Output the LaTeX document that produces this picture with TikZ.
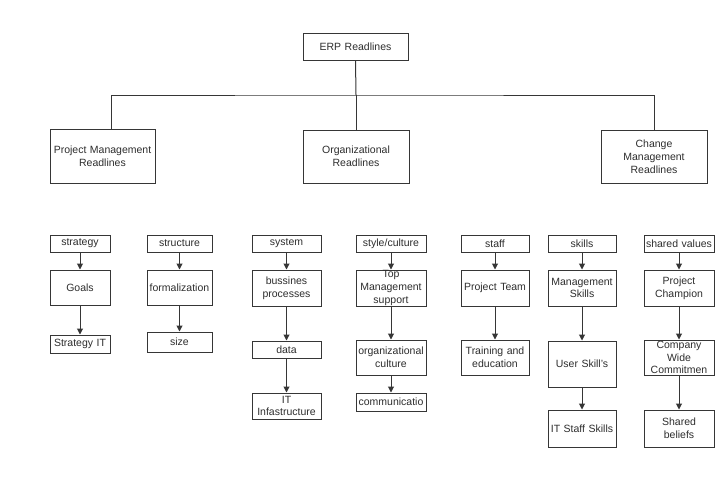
\documentclass[tikz,border=0pt]{standalone}
\usepackage{fontspec}
\setmainfont{Liberation Sans}
\usetikzlibrary{arrows.meta}
\definecolor{lnc}{HTML}{363636}
\definecolor{txc}{HTML}{2E2E2E}
\newcommand{\mybox}[6]{\node[bx, minimum width=#4pt, minimum height=#5pt, text width=#4pt-2pt] (#1) at (#2,#3) {#6};}
\begin{document}
\begin{tikzpicture}[x=1pt,y=-1pt,
  bx/.style={draw=lnc, line width=1pt, fill=white, text=txc, font=\fontsize{10.5}{12.8}\selectfont, align=center, inner sep=0pt},
  arr/.style={draw=lnc, line width=1pt, -{Triangle[length=6pt,width=6pt]}},
  con/.style={draw=lnc, line width=1pt}]
\useasboundingbox (0,0) rectangle (728,480);
% top levels
\mybox{erp}{355.5}{46.5}{105}{27}{ERP Readlines}
\mybox{pm}{102.5}{156}{105}{54}{Project Management\\Readlines}
\mybox{org}{356}{156.5}{106}{53}{Organizational\\Readlines}
\mybox{cm}{654}{156.5}{106}{53}{Change\\Management\\Readlines}
\coordinate (bus) at (356,95);
\coordinate (pmtop) at (111,129);
\draw[con] (erp.south) -- (bus);
\draw[con] (pmtop) |- (bus) -| (cm.north);
\draw[con] (bus) -- (org.north);
% column 1
\mybox{c1a}{80}{243.5}{60}{17}{strategy}
\mybox{c1b}{80}{287.5}{60}{35}{Goals}
\mybox{c1c}{80}{344}{60}{18}{Strategy IT}
% column 2
\mybox{c2a}{179.5}{243.5}{65}{17}{structure}
\mybox{c2b}{179.5}{287.5}{65}{35}{formalization}
\mybox{c2c}{179.5}{342}{65}{20}{size}
% column 3
\mybox{c3a}{286.5}{243.5}{69}{17}{system}
\mybox{c3b}{286.5}{288}{69}{36}{bussines\\processes}
\mybox{c3c}{286.5}{349.5}{69}{17}{data}
\mybox{c3d}{286.5}{406}{69}{26}{IT\\Infastructure}
% column 4
\mybox{c4a}{391}{243.5}{70}{17}{style/culture}
\mybox{c4b}{391}{288}{70}{36}{Top\\Management\\support}
\mybox{c4c}{391}{357.5}{70}{35}{organizational\\culture}
\mybox{c4d}{391}{402}{70}{18}{communicatio}
% column 5
\mybox{c5a}{495}{243.5}{68}{17}{staff}
\mybox{c5b}{495}{288}{68}{36}{Project Team}
\mybox{c5c}{495}{357.5}{68}{35}{Training and\\education}
% column 6
\mybox{c6a}{582}{243.5}{68}{17}{skills}
\mybox{c6b}{582}{288}{68}{36}{Management\\Skills}
\mybox{c6c}{582}{364}{68}{46}{User Skill's}
\mybox{c6d}{582}{428.5}{68}{37}{IT Staff Skills}
% column 7
\mybox{c7a}{679}{243.5}{70}{17}{shared values}
\mybox{c7b}{679}{288}{70}{36}{Project\\Champion}
\mybox{c7c}{679}{357.5}{70}{35}{Company\\Wide\\Commitmen}
\mybox{c7d}{679}{428.5}{70}{37}{Shared\\beliefs}
% arrows
\draw[arr] (c1a) -- (c1b);
\draw[arr] (c1b) -- (c1c);
\draw[arr] (c2a) -- (c2b);
\draw[arr] (c2b) -- (c2c);
\draw[arr] (c3a) -- (c3b);
\draw[arr] (c3b) -- (c3c);
\draw[arr] (c3c) -- (c3d);
\draw[arr] (c4a) -- (c4b);
\draw[arr] (c4b) -- (c4c);
\draw[arr] (c4c) -- (c4d);
\draw[arr] (c5a) -- (c5b);
\draw[arr] (c5b) -- (c5c);
\draw[arr] (c6a) -- (c6b);
\draw[arr] (c6b) -- (c6c);
\draw[arr] (c6c) -- (c6d);
\draw[arr] (c7a) -- (c7b);
\draw[arr] (c7b) -- (c7c);
\draw[arr] (c7c) -- (c7d);
\end{tikzpicture}
\end{document}
